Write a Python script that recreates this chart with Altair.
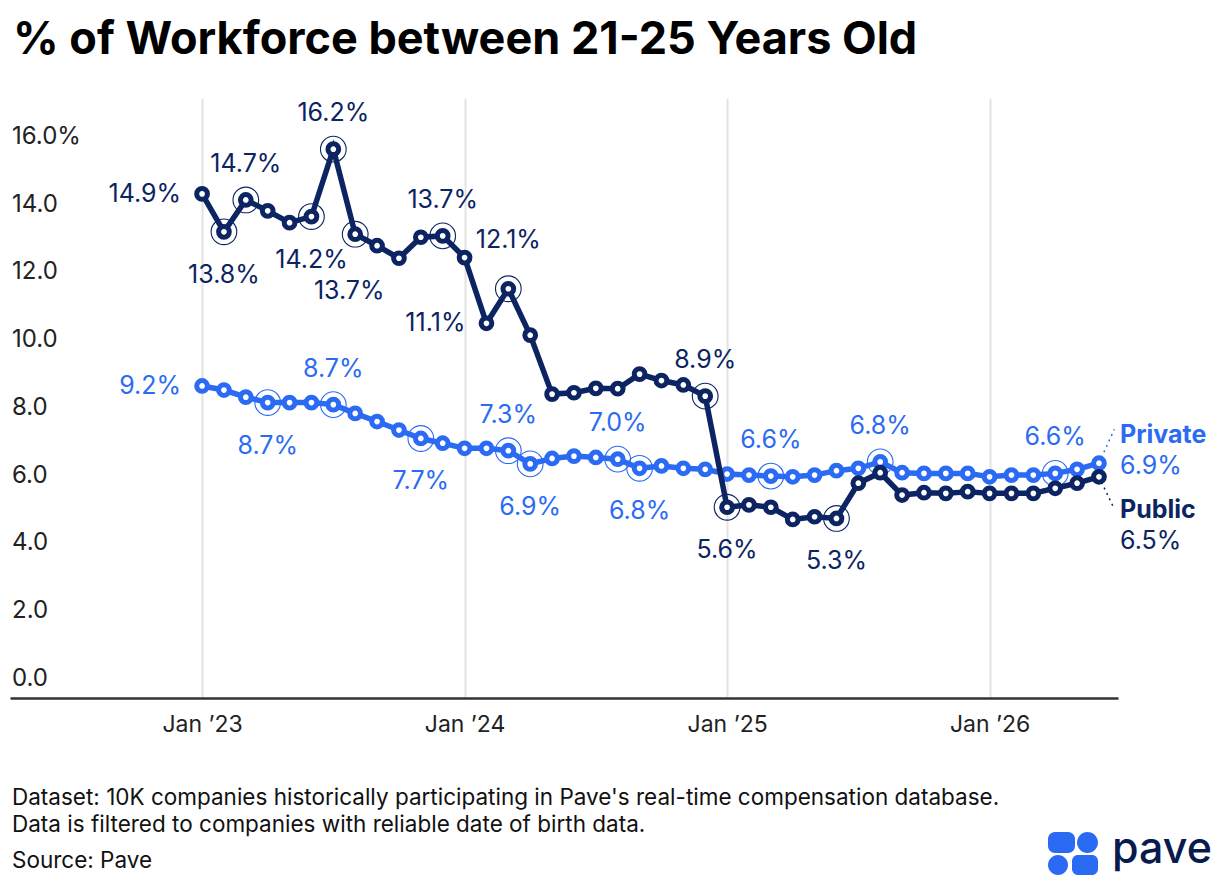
import altair as alt
import pandas as pd

NAVY = "#0c2462"
BLUE = "#2b6bf3"
FONT = "Inter"

# monthly values, Jan 2023 .. Jun 2026
public = [14.88, 13.76, 14.70, 14.38, 14.03, 14.21, 16.20, 13.69, 13.35, 12.98,
          13.60, 13.64, 13.00, 11.06, 12.08, 10.71, 8.97, 9.01, 9.14, 9.13,
          9.56, 9.37, 9.24, 8.91, 5.63, 5.70, 5.63, 5.27, 5.35, 5.30,
          6.34, 6.65, 5.99, 6.06, 6.04, 6.09, 6.04, 6.04, 6.04, 6.19, 6.34, 6.53]
private = [9.21, 9.09, 8.88, 8.72, 8.72, 8.72, 8.66, 8.40, 8.16, 7.91,
           7.66, 7.52, 7.37, 7.37, 7.30, 6.91, 7.07, 7.14, 7.10, 7.05,
           6.78, 6.85, 6.78, 6.75, 6.61, 6.58, 6.55, 6.53, 6.58, 6.71,
           6.78, 6.97, 6.65, 6.63, 6.63, 6.63, 6.53, 6.58, 6.58, 6.63, 6.75, 6.93]

# annotated points: month index -> (label, side)
public_notes = {0: ("14.9%", "left"), 1: ("13.8%", "below"), 2: ("14.7%", "above"),
                5: ("14.2%", "below"), 6: ("16.2%", "above"), 7: ("13.7%", "low"),
                11: ("13.7%", "above"), 13: ("11.1%", "left"), 14: ("12.1%", "high"),
                23: ("8.9%", "above"), 24: ("5.6%", "below"), 29: ("5.3%", "below")}
private_notes = {0: ("9.2%", "left"), 3: ("8.7%", "below"), 6: ("8.7%", "above"),
                 10: ("7.7%", "below"), 14: ("7.3%", "above"), 15: ("6.9%", "below"),
                 19: ("7.0%", "above"), 20: ("6.8%", "below"), 26: ("6.6%", "above"),
                 31: ("6.8%", "above"), 39: ("6.6%", "above")}

end_labels = {"Private": "6.9%", "Public": "6.5%"}

y_ticks = [0, 2, 4, 6, 8, 10, 12, 14, 16]
y_tick_labels = ["0.0", "2.0", "4.0", "6.0", "8.0", "10.0", "12.0", "14.0", "16.0%"]
x_ticks = [0, 12, 24, 36]

title = "% of Workforce between 21-25 Years Old"
footer = ["Dataset: 10K companies historically participating in Pave's real-time compensation database.",
          "Data is filtered to companies with reliable date of birth data.",
          "Source: Pave"]

LABEL_SIZE = 25

x_enc = alt.X("idx:Q", scale=alt.Scale(domain=[-8.78, 41.87], nice=False, zero=False),
              axis=alt.Axis(values=x_ticks, title=None, grid=True, gridColor="#e3e3e3",
                            gridWidth=2, ticks=False, domainColor="#333333", domainWidth=2.5,
                            labelFont=FONT, labelFontSize=23, labelColor="#222222",
                            labelPadding=15,
                            labelExpr="'Jan \u2019' + (23 + floor(datum.value / 12))"))
y_enc = alt.Y("value:Q", scale=alt.Scale(domain=[0, 17.71], nice=False), axis=None)

offsets = {"above": (0, -36), "below": (0, 43), "high": (0, -49), "low": (-6, 57),
           "left": (-21, 0)}


def series_layers(values, notes, color, name):
    df = pd.DataFrame({"idx": range(len(values)), "value": values})
    nd = pd.DataFrame([{"idx": i, "value": values[i], "label": t, "side": s}
                       for i, (t, s) in notes.items()])
    base = alt.Chart(df).encode(x=x_enc, y=y_enc)
    line = base.mark_line(color=color, strokeWidth=5.5)
    pts = base.mark_point(shape="circle", size=115, filled=False, fill="white",
                          fillOpacity=1, stroke=color, strokeWidth=5, opacity=1)
    ring_df = nd[nd["side"] != "left"]
    rings = alt.Chart(ring_df).mark_point(shape="circle", size=660, filled=False,
                                          stroke=color, strokeWidth=1.1, opacity=1
                                          ).encode(x=x_enc, y=y_enc)
    texts = []
    for side, (dx, dy) in offsets.items():
        sub = nd[nd["side"] == side]
        if len(sub) == 0:
            continue
        texts.append(alt.Chart(sub).mark_text(
            font=FONT, fontSize=LABEL_SIZE, color=color, dx=dx, dy=dy,
            align="right" if side == "left" else "center", baseline="middle"
        ).encode(x=x_enc, y=y_enc, text="label:N"))
    last = pd.DataFrame({"idx": [len(values) - 1], "value": [values[-1]],
                         "name": [name], "pct": [end_labels[name]]})
    up = name == "Private"
    lead = alt.Chart(last).transform_calculate(
        x2="datum.idx + 0.7", y2="datum.value + 1.0" if up else "datum.value - 0.95"
    ).mark_rule(color=color, strokeWidth=1.5, strokeDash=[2, 4]).encode(
        x=x_enc, y=y_enc, x2="x2:Q", y2="y2:Q")
    lab1 = alt.Chart(last).mark_text(font=FONT, fontSize=LABEL_SIZE, fontWeight=700, color=color,
                                     align="left", baseline="middle", dx=21,
                                     dy=-28 if up else 33).encode(x=x_enc, y=y_enc, text="name:N")
    lab2 = alt.Chart(last).mark_text(font=FONT, fontSize=LABEL_SIZE, color=color,
                                     align="left", baseline="middle", dx=21,
                                     dy=3 if up else 64).encode(x=x_enc, y=y_enc, text="pct:N")
    return [lead, line, rings, pts] + texts + [lab1, lab2]


ylab = alt.Chart(pd.DataFrame({"value": y_ticks, "t": y_tick_labels})).mark_text(
    font=FONT, fontSize=24, color="#222222", align="left", baseline="middle", dy=-19
).encode(x=alt.value(2), y=y_enc, text="t:N")

one = pd.DataFrame({"k": [0]})
head = alt.Chart(one).mark_text(font=FONT, fontSize=45, fontWeight=700, color="#000000",
                                align="left", baseline="alphabetic", text=title
                                ).encode(x=alt.value(3), y=alt.value(-44))
foot = [alt.Chart(one).mark_text(font=FONT, fontSize=22.5, color="#111111", align="left",
                                 baseline="middle", text=line
                                 ).encode(x=alt.value(2), y=alt.value(yy))
        for line, yy in zip(footer, [700, 727, 763])]


def logo_rect(x0, x1, y0, y1, r):
    return alt.Chart(one).mark_rect(color=BLUE, cornerRadius=r).encode(
        x=alt.value(x0), x2=alt.value(x1), y=alt.value(y0), y2=alt.value(y1))


logo = [logo_rect(1038, 1065, 734, 755, 7), logo_rect(1067, 1088, 734, 755, 10.5),
        logo_rect(1038, 1058, 757, 777, 10), logo_rect(1062, 1088, 757, 777, 6),
        alt.Chart(one).mark_text(font=FONT, fontSize=43, fontWeight=500, color="#0a1a4e",
                                 align="left", baseline="alphabetic", text="pave"
                                 ).encode(x=alt.value(1102), y=alt.value(765))]

chart = alt.layer(
    *series_layers(private, private_notes, BLUE, "Private"),
    *series_layers(public, public_notes, NAVY, "Public"),
    ylab, head, *foot, *logo
).properties(
    width=1108, height=600,
    padding={"left": 2, "top": 90, "right": 94, "bottom": 180},
    autosize=alt.AutoSizeParams(type="none")
).configure(background="white").configure_view(strokeWidth=0, strokeOpacity=0)

chart.save("out.html", embed_options={"renderer": "svg", "actions": False})
